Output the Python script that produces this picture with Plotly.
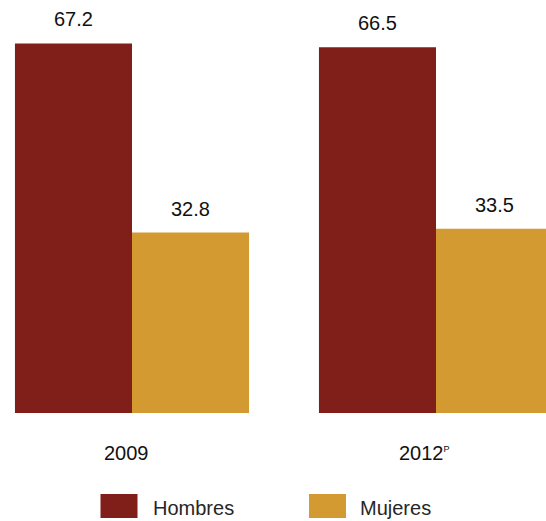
import plotly.graph_objects as go

years = ["2009", "2012"]
year_labels = ["2009", "2012<sup><span style='font-size:9px'>P</span></sup>"]
hombres = [67.2, 66.5]
mujeres = [32.8, 33.5]

RED = "#801F1A"
GOLD = "#D49A32"
FONT = "Liberation Sans"

fig = go.Figure()
fig.add_trace(go.Bar(x=years, y=hombres, name="Hombres", marker=dict(color=RED, line=dict(width=0))))
fig.add_trace(go.Bar(x=years, y=mujeres, name="Mujeres", marker=dict(color=GOLD, line=dict(width=0))))

ann = []
for i, y in enumerate(years):
    ann.append(dict(x=i, y=hombres[i], text=f"{hombres[i]:.1f}", xref="x", yref="y",
                    xshift=-58.5, yshift=11, yanchor="bottom", showarrow=False,
                    font=dict(family=FONT, size=20, color="#111111")))
    ann.append(dict(x=i, y=mujeres[i], text=f"{mujeres[i]:.1f}", xref="x", yref="y",
                    xshift=58.5, yshift=11, yanchor="bottom", showarrow=False,
                    font=dict(family=FONT, size=20, color="#111111")))
xs = [-6, -12]
for i, y in enumerate(years):
    ann.append(dict(x=i, y=0, text=year_labels[i], xref="x", yref="y",
                    xshift=xs[i], yshift=-40, yanchor="middle", showarrow=False,
                    font=dict(family=FONT, size=20, color="#111111")))

# manual legend
legend_items = [("Hombres", RED, 100.5, 150.5), ("Mujeres", GOLD, 309, 358)]
shapes = []
for name, col, x0, tx in legend_items:
    shapes.append(dict(type="rect", xref="paper", yref="paper",
                       x0=x0 / 546, x1=(x0 + 37) / 546,
                       y0=(413 - 518) / 413, y1=(413 - 494) / 413,
                       fillcolor=col, line=dict(width=0)))
    ann.append(dict(x=tx / 546, y=(413 - 508) / 413, xref="paper", yref="paper",
                    text=name, xanchor="left", yanchor="middle", showarrow=False,
                    font=dict(family=FONT, size=20, color="#262626")))

fig.update_layout(
    width=546, height=521,
    margin=dict(l=0, r=0, t=0, b=108),
    paper_bgcolor="white", plot_bgcolor="white",
    barmode="group", bargap=0.23, bargroupgap=0,
    showlegend=False,
    xaxis=dict(type="category", range=[-132 / 304, 414 / 304], showticklabels=False,
               showgrid=False, zeroline=False, showline=False, ticks=""),
    yaxis=dict(range=[0, 413 / 5.5], visible=False, showgrid=False, zeroline=False),
    annotations=ann, shapes=shapes,
)

fig.write_html("out.html", config={"displayModeBar": False},
               post_script="document.body.style.margin='0';document.body.style.overflow='hidden';")
